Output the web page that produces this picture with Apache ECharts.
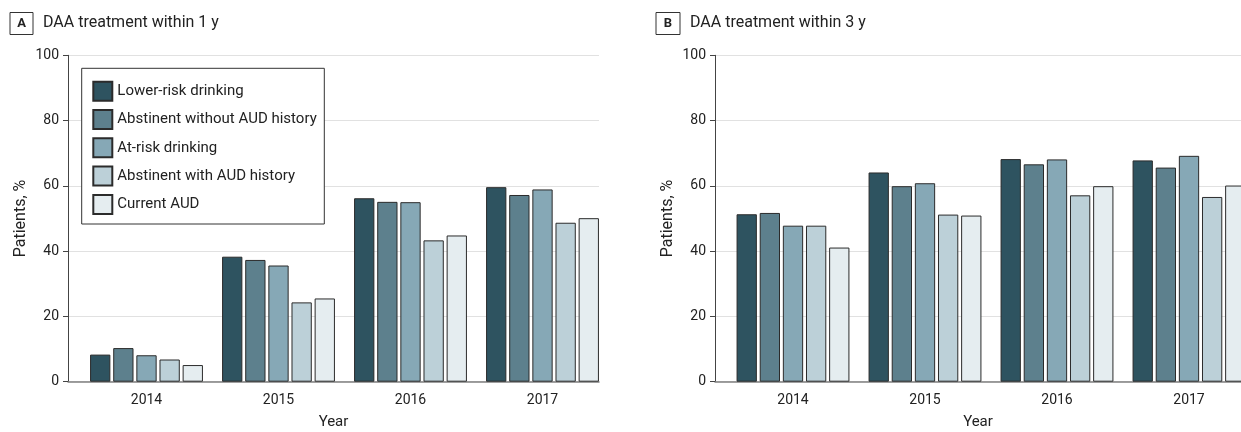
<!DOCTYPE html>
<html>
<head>
<meta charset="utf-8">
<script src="https://cdn.jsdelivr.net/npm/echarts@6/dist/echarts.min.js"></script>
<style>
  html, body { margin: 0; padding: 0; background: #fff; }
  #chart { width: 1241px; height: 432px; }
</style>
</head>
<body>
<div id="chart"></div>
<script>
// Categories and tick labels
const years = ['2014', '2015', '2016', '2017'];
const yTicks = [0, 20, 40, 60, 80, 100];
const groupNames = [
  'Lower-risk drinking',
  'Abstinent without AUD history',
  'At-risk drinking',
  'Abstinent with AUD history',
  'Current AUD'
];

// Panel A: DAA treatment within 1 y (% of patients)
const lowerRisk1y   = [8.3, 38.3, 56.2, 59.6];
const abstNoAud1y   = [10.3, 37.3, 55.1, 57.2];
const atRisk1y      = [8.1, 35.6, 55.0, 58.9];
const abstAud1y     = [6.8, 24.3, 43.3, 48.7];
const currentAud1y  = [5.1, 25.5, 44.8, 50.1];

// Panel B: DAA treatment within 3 y (% of patients)
const lowerRisk3y   = [51.3, 64.1, 68.2, 67.8];
const abstNoAud3y   = [51.7, 59.9, 66.6, 65.6];
const atRisk3y      = [47.8, 60.8, 68.1, 69.2];
const abstAud3y     = [47.8, 51.2, 57.1, 56.6];
const currentAud3y  = [41.1, 50.9, 59.9, 60.1];

const panelA = [lowerRisk1y, abstNoAud1y, atRisk1y, abstAud1y, currentAud1y];
const panelB = [lowerRisk3y, abstNoAud3y, atRisk3y, abstAud3y, currentAud3y];

const fills = ['#2e5360', '#5d808d', '#86a8b6', '#bcd0d8', '#e5edf0'];
const FONT = 'Roboto';
const TEXT = '#222';

const chart = echarts.init(document.getElementById('chart'), null, { renderer: 'canvas' });

const plotTop = 55.3;
const plotH = 326.4;

// grids 0/2 carry the visible axes and gridlines;
// grids 1/3 span from the first to the last year centre and hold the bars
const gridBase = { top: plotTop, height: plotH, outerBoundsMode: 'none', containLabel: false };
const grids = [
  { ...gridBase, left: 68, width: 531 },
  { ...gridBase, left: 146.5, width: 396 },
  { ...gridBase, left: 715, width: 526 },
  { ...gridBase, left: 793, width: 396 }
];

function frameX(gridIndex) {
  return {
    type: 'category', gridIndex, data: years,
    axisLine: { show: true, lineStyle: { color: '#808080', width: 1.5 } },
    axisTick: { show: false },
    axisLabel: { show: false },
    name: 'Year', nameLocation: 'middle', nameGap: 33,
    nameTextStyle: { fontFamily: FONT, fontSize: 15, color: TEXT }
  };
}
function barX(gridIndex) {
  return {
    type: 'category', gridIndex, data: years, boundaryGap: false,
    axisLine: { show: false }, axisTick: { show: false },
    axisLabel: { fontFamily: FONT, fontSize: 14, color: TEXT, margin: 12 }
  };
}
function frameY(gridIndex) {
  return {
    type: 'value', gridIndex, min: 0, max: 100, interval: 20,
    axisLine: { show: true, lineStyle: { color: '#444', width: 1 } },
    axisTick: { show: true, length: 5, lineStyle: { color: '#444' } },
    axisLabel: { fontFamily: FONT, fontSize: 14, color: TEXT, margin: 9,
                 formatter: v => (yTicks.includes(v) ? String(v) : '') },
    splitLine: { show: true, lineStyle: { color: '#e1e1e1', width: 1.2 } },
    name: 'Patients, %', nameLocation: 'middle', nameGap: 39,
    nameTextStyle: { fontFamily: FONT, fontSize: 16, color: TEXT }
  };
}
function barY(gridIndex) {
  return { type: 'value', gridIndex, min: 0, max: 100, show: false };
}

function barSeries(panel, axisIndex) {
  return panel.map((vals, i) => ({
    name: groupNames[i],
    type: 'bar',
    xAxisIndex: axisIndex, yAxisIndex: axisIndex,
    data: vals,
    barWidth: 20.3,
    barGap: '14%',
    clip: false,
    itemStyle: { color: fills[i], borderColor: '#2b2b2b', borderWidth: 1 },
    emphasis: { disabled: true },
    animation: false
  }));
}

function panelHeader(x, letter, title, boxW) {
  return [
    { type: 'rect', shape: { x: x, y: 12.5, width: boxW, height: 22 },
      style: { fill: '#fff', stroke: '#333', lineWidth: 1 }, z: 10 },
    { type: 'text', x: x + boxW / 2, y: 23.5,
      style: { text: letter, fontFamily: FONT, fontSize: 13, fontWeight: 'bold',
               fill: TEXT, align: 'center', verticalAlign: 'middle' }, z: 11 },
    { type: 'text', x: x + boxW + 10, y: 23,
      style: { text: title, fontFamily: FONT, fontSize: 16,
               fill: TEXT, align: 'left', verticalAlign: 'middle' }, z: 11 }
  ];
}

const option = {
  animation: false,
  backgroundColor: '#fff',
  grid: grids,
  xAxis: [frameX(0), barX(1), frameX(2), barX(3)],
  yAxis: [frameY(0), barY(1), frameY(2), barY(3)],
  legend: {
    data: groupNames,
    orient: 'vertical',
    left: 92.3, top: 80.7,
    padding: 0,
    itemWidth: 19, itemHeight: 19, itemGap: 7.3,
    icon: 'rect',
    selectedMode: false,
    textStyle: { fontFamily: FONT, fontSize: 15, color: TEXT },
    z: 20
  },
  graphic: [
    // legend frame, painted over the gridlines
    { type: 'rect', shape: { x: 81.7, y: 68.3, width: 242.6, height: 155.7 },
      style: { fill: '#fff', stroke: '#333', lineWidth: 1 }, z: 5 },
    ...panelHeader(10, 'A', 'DAA treatment within 1 y', 23),
    ...panelHeader(656, 'B', 'DAA treatment within 3 y', 24)
  ],
  series: [...barSeries(panelA, 1), ...barSeries(panelB, 3)]
};

chart.setOption(option);
</script>
</body>
</html>
